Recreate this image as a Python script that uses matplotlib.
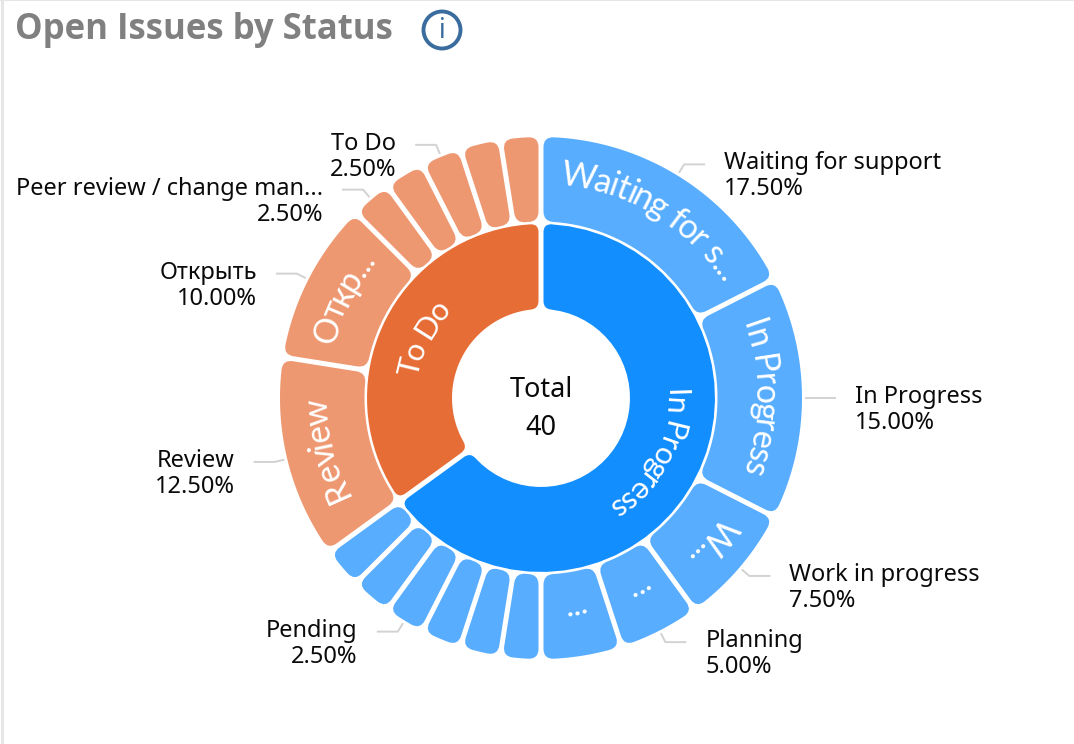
import numpy as np
import matplotlib
matplotlib.use("Agg")
import matplotlib.pyplot as plt
from matplotlib.path import Path
from matplotlib.patches import PathPatch, Circle
from matplotlib.font_manager import FontProperties

# ========== Data ==========
inner_names = ["In Progress", "To Do"]
inner_pct = [65.0, 35.0]

outer_pct = [17.5, 15.0, 7.5, 5.0, 5.0,
             2.5, 2.5, 2.5, 2.5, 2.5, 2.5,
             12.5, 10.0,
             2.5, 2.5, 2.5, 2.5, 2.5]
outer_parent = [0] * 11 + [1] * 7
outer_text = ["Waiting for s...", "In Progress", "W...", "...", "...",
              "", "", "", "", "", "",
              "Review", "Откр...",
              "", "", "", "", ""]
outer_names = ["Waiting for support", "In Progress", "Work in progress", "Planning", None,
               None, None, None, "Pending", None, None,
               "Review", "Открыть",
               "Peer review / change man...", None, "To Do", None, None]

total_issues = 40
title = "Open Issues by Status"

inner_colors = ["#138eff", "#e76d36"]
outer_colors = ["#58adff", "#ee9872"]

# ========== Layout (pixels) ==========
cx, cy = 541, 398
font = ["Noto Sans", "DejaVu Sans"]
ring_font = ["Lato", "DejaVu Sans"]


def polar(r, a):
    return cx + r * np.sin(a), cy - r * np.cos(a)


def sector_path(r0, r1, a0, a1, gap, c):
    # ring segment with parallel gaps and rounded corners
    off0 = np.arcsin(gap / 2 / r0)
    off1 = np.arcsin(gap / 2 / r1)
    A = np.array(polar(r1, a0 + off1))
    B = np.array(polar(r1, a1 - off1))
    C = np.array(polar(r0, a1 - off0))
    D = np.array(polar(r0, a0 + off0))
    da = (A - D) / np.linalg.norm(A - D)
    db = (C - B) / np.linalg.norm(C - B)
    verts, codes = [A - da * c], [Path.MOVETO]
    verts += [A, polar(r1, a0 + off1 + c / r1)]
    codes += [Path.CURVE3, Path.CURVE3]
    for a in np.linspace(a0 + off1 + c / r1, a1 - off1 - c / r1, 40)[1:]:
        verts.append(polar(r1, a))
        codes.append(Path.LINETO)
    verts += [B, B + db * c]
    codes += [Path.CURVE3, Path.CURVE3]
    verts.append(C - db * c)
    codes.append(Path.LINETO)
    verts += [C, polar(r0, a1 - off0 - c / r0)]
    codes += [Path.CURVE3, Path.CURVE3]
    for a in np.linspace(a1 - off0 - c / r0, a0 + off0 + c / r0, 40)[1:]:
        verts.append(polar(r0, a))
        codes.append(Path.LINETO)
    verts += [D, D + da * c]
    codes += [Path.CURVE3, Path.CURVE3]
    verts.append(verts[0])
    codes.append(Path.CLOSEPOLY)
    return Path(np.array(verts, dtype=float), codes)


def curved_text(ax, s, r, mid, px, track):
    # place the label letter by letter along the arc, reading clockwise
    renderer = ax.figure.canvas.get_renderer()
    prop = FontProperties(family=ring_font, size=px * 0.72)

    def width(t):
        w = renderer.get_text_width_height_descent(t + "|", prop, False)[0]
        return w - renderer.get_text_width_height_descent("|", prop, False)[0]

    total = width(s)
    for i, ch in enumerate(s):
        if ch == " ":
            continue
        pos = (width(s[:i]) + width(s[:i + 1])) / 2 - total / 2
        a = mid + pos * track / r
        x, y = polar(r, a)
        ax.text(x, y, ch, fontproperties=prop, color="white", ha="center", va="baseline",
                rotation=-np.degrees(a), rotation_mode="anchor")


# ========== Figure ==========
fig = plt.figure(figsize=(10.74, 7.44), dpi=100)
ax = fig.add_axes([0, 0, 1, 1])
ax.set_xlim(0, 1074)
ax.set_ylim(744, 0)
ax.axis("off")

# Card border
ax.plot([2, 2], [0, 744], color="#e6e6e6", lw=2.2)
ax.plot([0, 1074], [0, 0], color="#e6e6e6", lw=1.5)

# Inner ring
start = 0.0
for name, pct, color in zip(inner_names, inner_pct, inner_colors):
    a0 = start
    a1 = start + pct / 100 * 2 * np.pi
    ax.add_patch(PathPatch(sector_path(89, 174, a0, a1, 5, 8), fc=color, ec="none"))
    curved_text(ax, name, 125, (a0 + a1) / 2, 31, 0.88)
    start = a1

# Outer ring
start = 0.0
for i, pct in enumerate(outer_pct):
    a0 = start
    a1 = start + pct / 100 * 2 * np.pi
    mid = (a0 + a1) / 2
    color = outer_colors[outer_parent[i]]
    ax.add_patch(PathPatch(sector_path(176.5, 261, a0, a1, 5, 10), fc=color, ec="none"))
    if outer_text[i]:
        curved_text(ax, outer_text[i], 214, mid, 34, 0.9)
    if outer_names[i]:
        sign = 1 if np.sin(mid) > 0 else -1
        x0, y0 = polar(265, mid)
        x1, y1 = polar(274, mid)
        ax.plot([x0, x1, x1 + sign * 20], [y0, y1, y1], color="#d2d2d2", lw=1.4)
        ax.text(x1 + sign * 40, y1 + 12, outer_names[i] + "\n" + f"{pct:.2f}%",
                ha="left" if sign > 0 else "right", va="center", linespacing=1.1,
                fontsize=17, family=font, color="#0a0a0a")
    start = a1

# Centre text
ax.text(cx, 390, "Total", ha="center", va="center", fontsize=19.5, family=font, color="#0a0a0a")
ax.text(cx, 428, str(total_issues), ha="center", va="center", fontsize=19.5, family=font, color="#0a0a0a")

# Title and info icon
ax.text(15, 30, title, ha="left", va="center", fontsize=25, fontweight="bold",
        family=["Open Sans", "DejaVu Sans"], color="#808080")
ax.add_patch(Circle((442, 30), 18.5, fc="white", ec="#3a6c9e", lw=2.8))
ax.text(442, 31, "i", ha="center", va="center", fontsize=19, family=font, color="#3a6c9e")

fig.savefig("out.png", dpi=100)
